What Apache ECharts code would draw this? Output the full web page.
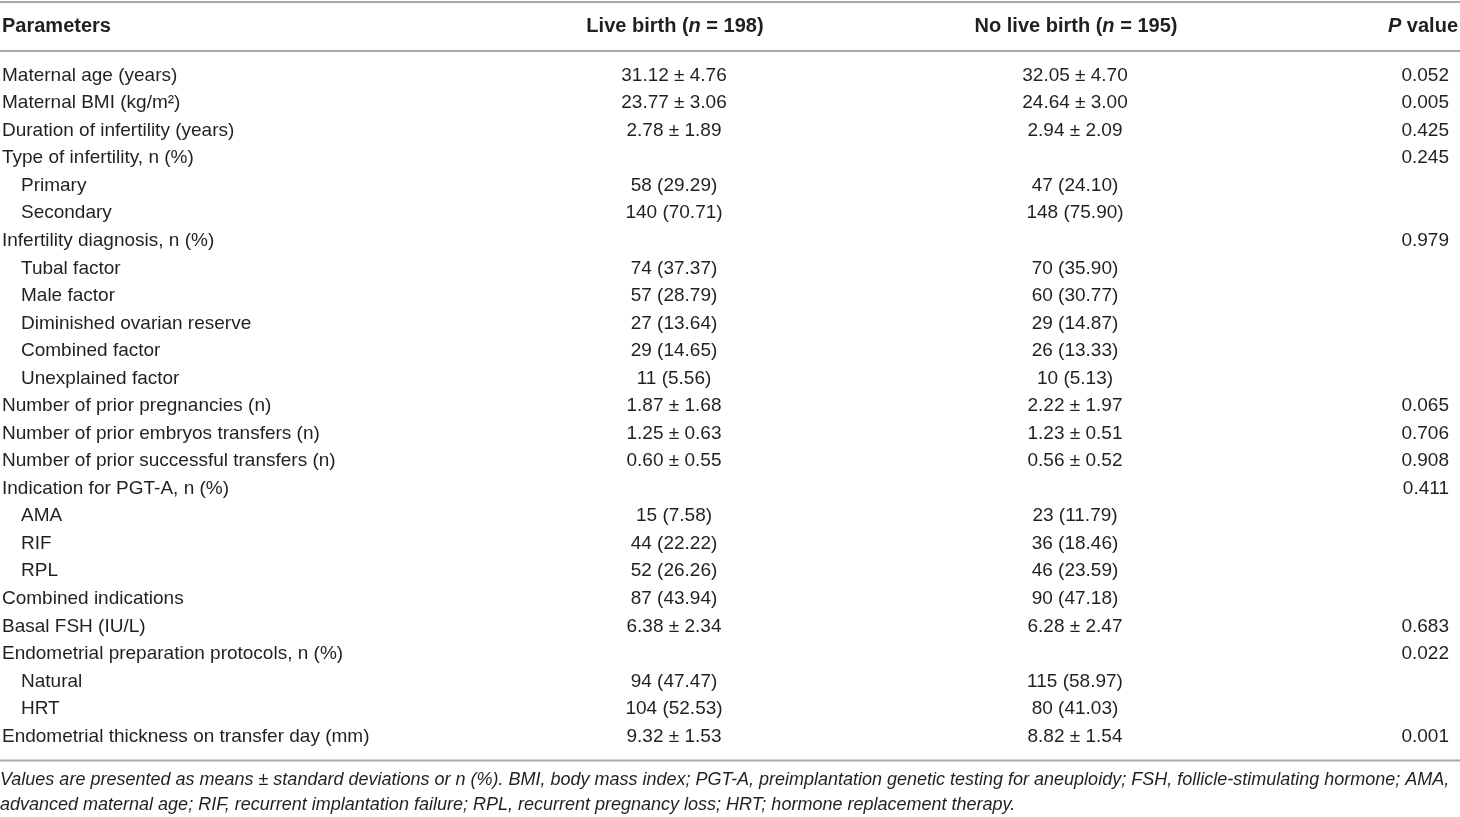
<!DOCTYPE html>
<html>
<head>
<meta charset="utf-8">
<title>Live birth vs no live birth</title>
<script src="https://cdn.jsdelivr.net/npm/echarts@6/dist/echarts.min.js"></script>
<style>
  html, body { margin: 0; padding: 0; background: #fff; }
  #table-chart { width: 1460px; height: 817px; }
</style>
</head>
<body>
<div id="table-chart"></div>
<script>
// table content
var headers = ['Parameters', '{b|Live birth (}{bi|n}{b| = 198)}', '{b|No live birth (}{bi|n}{b| = 195)}', '{bi|P}{b| value}'];

var parameters = [
    'Maternal age (years)', 'Maternal BMI (kg/m\u00b2)', 'Duration of infertility (years)',
    'Type of infertility, n (%)', 'Primary', 'Secondary',
    'Infertility diagnosis, n (%)', 'Tubal factor', 'Male factor', 'Diminished ovarian reserve',
    'Combined factor', 'Unexplained factor',
    'Number of prior pregnancies (n)', 'Number of prior embryos transfers (n)',
    'Number of prior successful transfers (n)',
    'Indication for PGT-A, n (%)', 'AMA', 'RIF', 'RPL', 'Combined indications',
    'Basal FSH (IU/L)', 'Endometrial preparation protocols, n (%)', 'Natural', 'HRT',
    'Endometrial thickness on transfer day (mm)'
];
// 1 = sub-item of the row above
var levels = [0, 0, 0, 0, 1, 1, 0, 1, 1, 1, 1, 1, 0, 0, 0, 0, 1, 1, 1, 0, 0, 0, 1, 1, 0];

var liveBirth = [
    '31.12 \u00b1 4.76', '23.77 \u00b1 3.06', '2.78 \u00b1 1.89', '', '58 (29.29)', '140 (70.71)',
    '', '74 (37.37)', '57 (28.79)', '27 (13.64)', '29 (14.65)', '11 (5.56)',
    '1.87 \u00b1 1.68', '1.25 \u00b1 0.63', '0.60 \u00b1 0.55',
    '', '15 (7.58)', '44 (22.22)', '52 (26.26)', '87 (43.94)',
    '6.38 \u00b1 2.34', '', '94 (47.47)', '104 (52.53)', '9.32 \u00b1 1.53'
];
var noLiveBirth = [
    '32.05 \u00b1 4.70', '24.64 \u00b1 3.00', '2.94 \u00b1 2.09', '', '47 (24.10)', '148 (75.90)',
    '', '70 (35.90)', '60 (30.77)', '29 (14.87)', '26 (13.33)', '10 (5.13)',
    '2.22 \u00b1 1.97', '1.23 \u00b1 0.51', '0.56 \u00b1 0.52',
    '', '23 (11.79)', '36 (18.46)', '46 (23.59)', '90 (47.18)',
    '6.28 \u00b1 2.47', '', '115 (58.97)', '80 (41.03)', '8.82 \u00b1 1.54'
];
var pValues = [
    '0.052', '0.005', '0.425', '0.245', '', '',
    '0.979', '', '', '', '', '',
    '0.065', '0.706', '0.908',
    '0.411', '', '', '', '',
    '0.683', '0.022', '', '', '0.001'
];

var footnotes = [
    'Values are presented as means \u00b1 standard deviations or n (%). BMI, body mass index; PGT-A, preimplantation genetic testing for aneuploidy; FSH, follicle-stimulating hormone; AMA,',
    'advanced maternal age; RIF, recurrent implantation failure; RPL, recurrent pregnancy loss; HRT; hormone replacement therapy.'
];

// layout (axis units: x = px, y = row index)
var FONT = '"Liberation Sans", Arial, sans-serif';
var TEXT_COLOR = '#231f20';
var ROW_H = 27.54, FIRST_ROW_PX = 75.5;
var colX = [2, 674, 1075, 1449];
var headerX = [2, 675, 1076, 1458];
var colAlign = ['left', 'center', 'center', 'right'];
var INDENT = 19;
var HEADER_ROW = (26.5 - FIRST_ROW_PX) / ROW_H;
var ruleRows = [(2 - FIRST_ROW_PX) / ROW_H, (51 - FIRST_ROW_PX) / ROW_H, (760.5 - FIRST_ROW_PX) / ROW_H];
var footRows = [(779.5 - FIRST_ROW_PX) / ROW_H, (804.5 - FIRST_ROW_PX) / ROW_H];

var columns = [parameters, liveBirth, noLiveBirth, pValues];

var cellData = [];
columns.forEach(function (col, c) {
    col.forEach(function (txt, r) {
        if (txt) {
            cellData.push([colX[c] + (c === 0 ? levels[r] * INDENT : 0), r, c, txt]);
        }
    });
});
var headerData = headers.map(function (h, c) { return [headerX[c], HEADER_ROW, c, h]; });
var footData = footnotes.map(function (f, i) { return [0, footRows[i], 0, f]; });

var chart = echarts.init(document.getElementById('table-chart'));

function textItem(data, bold, italic, size) {
    return {
        type: 'custom',
        data: data,
        silent: true,
        renderItem: function (params, api) {
            var d = data[params.dataIndex];
            var p = api.coord([d[0], d[1]]);
            return {
                type: 'text',
                x: p[0],
                y: p[1],
                style: {
                    text: d[3],
                    fill: TEXT_COLOR,
                    font: (italic ? 'italic ' : '') + (bold ? 'bold ' : '') + size + 'px ' + FONT,
                    align: colAlign[d[2]],
                    verticalAlign: 'middle',
                    rich: {
                        b: { fontWeight: 'bold', fontSize: size, fontFamily: FONT, fill: TEXT_COLOR },
                        bi: { fontWeight: 'bold', fontStyle: 'italic', fontSize: size, fontFamily: FONT, fill: TEXT_COLOR }
                    }
                }
            };
        }
    };
}

var option = {
    animation: false,
    grid: { left: 0, right: 0, top: 0, bottom: 0 },
    xAxis: { type: 'value', min: 0, max: 1460, show: false },
    yAxis: {
        type: 'value', inverse: true, show: false,
        min: -FIRST_ROW_PX / ROW_H,
        max: (817 - FIRST_ROW_PX) / ROW_H
    },
    series: [
        {
            type: 'custom',
            data: ruleRows,
            silent: true,
            renderItem: function (params, api) {
                var a = api.coord([0, api.value(0)]);
                var b = api.coord([1460, api.value(0)]);
                return {
                    type: 'line',
                    shape: { x1: a[0], y1: a[1], x2: b[0], y2: b[1] },
                    style: { stroke: '#a8a8a8', lineWidth: 2 }
                };
            }
        },
        textItem(headerData, true, false, 20),
        textItem(cellData, false, false, 19),
        textItem(footData, false, true, 18)
    ]
};

chart.setOption(option);
window.addEventListener('resize', chart.resize);
</script>
</body>
</html>
